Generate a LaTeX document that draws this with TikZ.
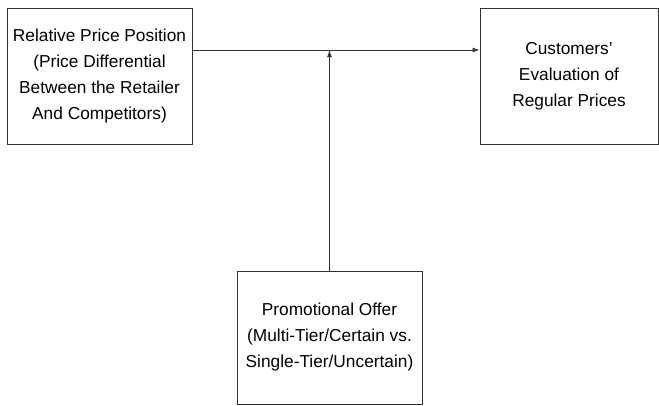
\documentclass[tikz,border=0pt]{standalone}
\usepackage{fontspec}
\setmainfont{Liberation Sans}
\usetikzlibrary{arrows.meta}
\usetikzlibrary{positioning}

\tikzset{
  box/.style={draw=black!80, line width=0.9pt, align=center, inner sep=0pt,
    font=\fontsize{17.3}{26}\selectfont},
  link/.style={draw=black!80, line width=0.9pt},
  arr/.style={link, -{Latex[length=7pt,width=5pt]}}
}

\begin{document}
\begin{tikzpicture}[x=1pt, y=-1pt]

% frame of the picture
\useasboundingbox (0,0) rectangle (659,405);

% the three boxes
\node[box, minimum width=185pt, minimum height=136pt] (price) at (99.5,76)
  {Relative Price Position\\(Price Differential\\Between the Retailer\\And Competitors)};
\node[box, minimum width=178pt, minimum height=136pt] (eval) at (569,76)
  {Customers'\\Evaluation of\\Regular Prices};
\node[box, minimum width=185pt, minimum height=133pt] (promo) at (329.5,337.5)
  {Promotional Offer\\(Multi-Tier/Certain vs.\\Single-Tier/Uncertain)};

% meeting point of the two lines
\coordinate (join) at (329.5,50);

% main path
\draw[arr] (price.east |- join) -- (eval.west |- join);

% moderating path
\draw[arr] (promo.north) -- (join);

\end{tikzpicture}
\end{document}
